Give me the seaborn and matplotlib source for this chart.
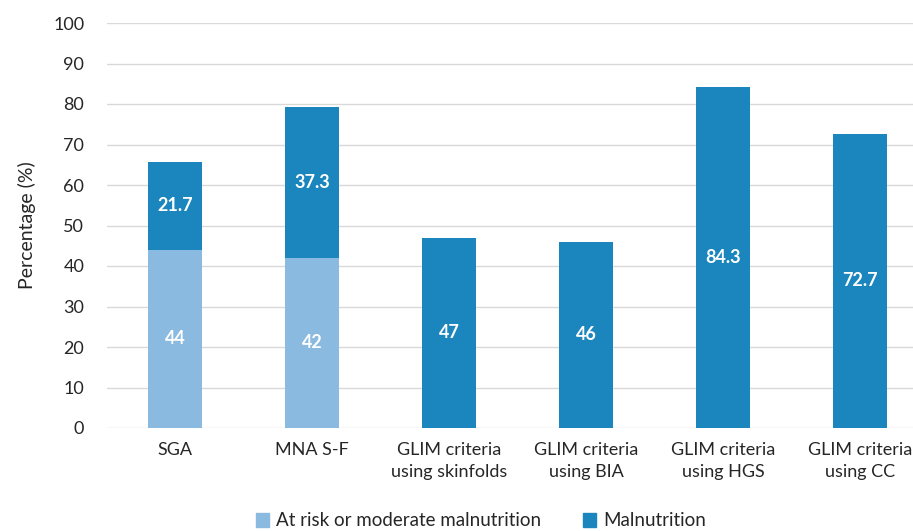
import matplotlib
matplotlib.use("Agg")
import matplotlib.pyplot as plt
import seaborn as sns
import pandas as pd
from matplotlib.patches import Patch

categories = ["SGA", "MNA S-F", "GLIM criteria\nusing skinfolds", "GLIM criteria\nusing BIA",
              "GLIM criteria\nusing HGS", "GLIM criteria\nusing CC"]
at_risk = [44, 42, 0, 0, 0, 0]
malnutrition = [21.7, 37.3, 47, 46, 84.3, 72.7]
yticks = list(range(0, 101, 10))

light = "#8ABAE0"
dark = "#1B86BD"
text_color = "#262626"

sns.set_theme(style="white")
plt.rcParams["font.family"] = ["Lato", "DejaVu Sans"]

df = pd.DataFrame({"category": categories, "at_risk": at_risk, "malnutrition": malnutrition})
df["total"] = df["at_risk"] + df["malnutrition"]

fig = plt.figure(figsize=(9.13, 5.31), dpi=100)
ax = fig.add_axes([106.5 / 913, 1 - 428 / 531, 822 / 913, 405 / 531])

for y in yticks:
    ax.axhline(y, color="#D9D9D9", lw=1.0, zorder=0)

sns.barplot(data=df, x="category", y="total", color=dark, width=0.395, ax=ax,
            saturation=1, linewidth=0, zorder=2)
sns.barplot(data=df, x="category", y="at_risk", color=light, width=0.395, ax=ax,
            saturation=1, linewidth=0, zorder=3)

for i, (a, m) in enumerate(zip(at_risk, malnutrition)):
    if a > 0:
        ax.text(i, a / 2, f"{a:g}", ha="center", va="center", color="white",
                fontsize=13, fontweight="bold", zorder=4)
    ax.text(i, a + m / 2, f"{m:g}", ha="center", va="center", color="white",
            fontsize=13, fontweight="bold", zorder=4)

ax.set_ylim(0, 100)
ax.set_xlim(-0.5, 5.5)
ax.set_yticks(yticks)
ax.set_yticklabels([str(t) for t in yticks], fontsize=13, color=text_color)
ax.tick_params(axis="x", labelsize=13, colors=text_color, pad=10, length=0)
ax.tick_params(axis="y", length=0, pad=16)
for lbl in ax.get_xticklabels():
    lbl.set_linespacing(1.45)
ax.set_xlabel("")
ax.set_ylabel("Percentage (%)", fontsize=14, color=text_color, labelpad=12)
sns.despine(ax=ax, left=True, bottom=True, right=True, top=True)

handles = [Patch(color=light, label="At risk or moderate malnutrition"),
           Patch(color=dark, label="Malnutrition")]
fig.legend(handles=handles, loc="center", bbox_to_anchor=(481 / 913, 1 - 521 / 531),
           ncol=2, frameon=False, fontsize=13.5, handlelength=0.7, handleheight=0.7,
           handletextpad=0.4, columnspacing=2.2, labelcolor=text_color)

fig.savefig("out.png", dpi=100)
